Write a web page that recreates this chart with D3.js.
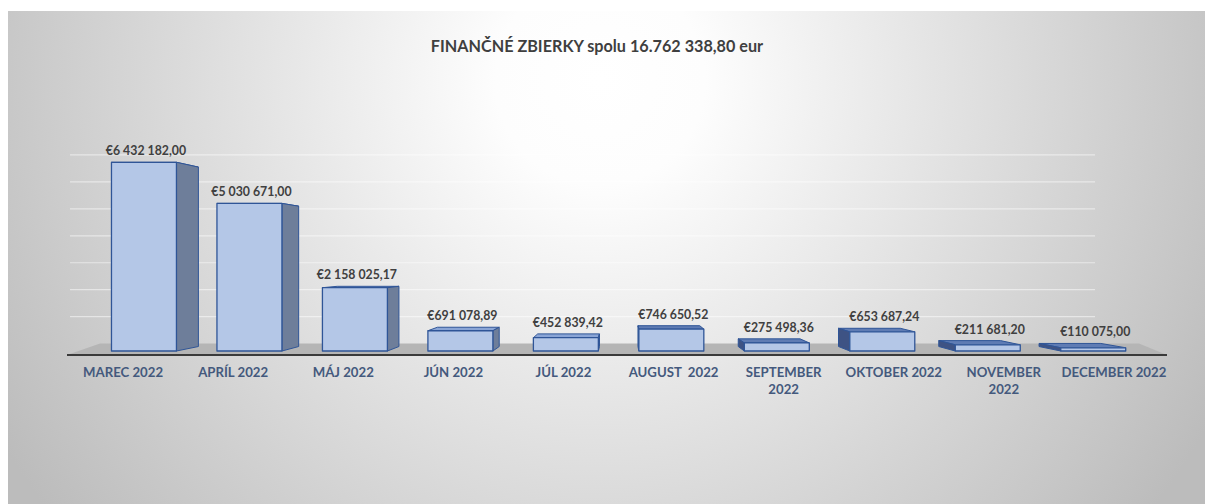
<!DOCTYPE html>
<html lang="sk">
<head>
  <meta charset="UTF-8">
  <title>Finančné zbierky 2022</title>
  <script src="https://cdnjs.cloudflare.com/ajax/libs/d3/7.8.5/d3.min.js"></script>
  <style>
    body {
      margin: 0;
      background: white;
    }
    svg {
      display: block;
    }
    text {
      font-family: Lato, "Open Sans", sans-serif;
      font-weight: bold;
    }
    .title {
      fill: #3f3f3f;
      font-size: 16.2px;
      text-anchor: middle;
    }
    .value-label {
      fill: #404040;
      font-size: 12.3px;
      text-anchor: middle;
    }
    .cat-label {
      fill: #44597d;
      font-size: 13.2px;
      text-anchor: middle;
      white-space: pre;
    }
  </style>
</head>
<body>
  <script>
    var title = "FINANČNÉ ZBIERKY spolu 16.762 338,80 eur";

    var months = [
      ["MAREC 2022"],
      ["APRÍL 2022"],
      ["MÁJ 2022"],
      ["JÚN 2022"],
      ["JÚL 2022"],
      ["AUGUST  2022"],
      ["SEPTEMBER", "2022"],
      ["OKTOBER 2022"],
      ["NOVEMBER", "2022"],
      ["DECEMBER 2022"]
    ];

    var values = [6432182.00, 5030671.00, 2158025.17, 691078.89, 452839.42,
                  746650.52, 275498.36, 653687.24, 211681.20, 110075.00];

    var gridTicks = [1000000, 2000000, 3000000, 4000000, 5000000, 6000000, 7000000];

    var w = 1205;
    var h = 504;

    // simple perspective: everything shrinks toward one vanishing point
    var vp = [621, 260];
    var sFront = 0.958;   // front face of bars
    var sBack = 0.9107;   // back face of bars
    var sWall = 0.88;     // back wall with gridlines
    var floorY = 355;

    function project(x, y, s) {
      return [vp[0] + (x - vp[0]) * s, vp[1] + (y - vp[1]) * s];
    }

    var euro = d3.formatLocale({
      decimal: ",",
      thousands: " ",
      grouping: [3],
      currency: ["€", ""]
    }).format("$,.2f");

    var svg = d3.select("body").append("svg")
      .attr("width", w)
      .attr("height", h);

    var defs = svg.append("defs");
    var bg = defs.append("radialGradient")
      .attr("id", "bg")
      .attr("gradientUnits", "userSpaceOnUse")
      .attr("cx", 600)
      .attr("cy", 80)
      .attr("r", 700);
    bg.append("stop").attr("offset", "0").attr("stop-color", "#ffffff");
    bg.append("stop").attr("offset", "0.15").attr("stop-color", "#fdfdfd");
    bg.append("stop").attr("offset", "1").attr("stop-color", "#bcbcbc");

    svg.append("rect")
      .attr("x", 8)
      .attr("y", 11)
      .attr("width", w - 8)
      .attr("height", h - 11)
      .attr("fill", "url(#bg)");

    var xScale = d3.scaleBand()
      .domain(d3.range(months.length))
      .range([68, 1169])
      .paddingInner(0.384)
      .paddingOuter(0.192);

    var yScale = d3.scaleLinear()
      .domain([0, 7000000])
      .range([floorY, floorY - 214.4]);

    // gridlines on back wall
    svg.selectAll(".grid")
      .data(gridTicks)
      .enter()
      .append("line")
      .classed("grid", true)
      .attr("x1", 70)
      .attr("x2", 1095)
      .attr("y1", function(d) {
        return project(0, yScale(d), sWall)[1];
      })
      .attr("y2", function(d) {
        return project(0, yScale(d), sWall)[1];
      })
      .attr("stroke", "#ffffff")
      .attr("stroke-opacity", 0.5)
      .attr("stroke-width", 1.2);

    // floor
    var r = xScale.range();
    var backY = project(0, floorY, sWall)[1];
    svg.append("polygon")
      .attr("points", [[r[0] - 1, floorY], [r[1] - 2, floorY], [r[1] - 30, backY], [r[0] + 32, backY]].join(" "))
      .attr("fill", "#b5b5b5");

    svg.append("line")
      .attr("x1", r[0] - 1)
      .attr("x2", r[1] - 2)
      .attr("y1", floorY)
      .attr("y2", floorY)
      .attr("stroke", "#3a3a3a")
      .attr("stroke-width", 2);

    function poly(pts) {
      return pts.map(function(p) { return p.join(","); }).join(" ");
    }

    var bars = svg.selectAll(".bar")
      .data(values)
      .enter()
      .append("g")
      .classed("bar", true);

    function corners(d, i) {
      var x0 = xScale(i);
      var x1 = x0 + xScale.bandwidth();
      var yt = yScale(d);
      var yb = yScale(0);
      return {x0: x0, x1: x1, yt: yt, yb: yb, right: x0 + xScale.bandwidth() / 2 > vp[0] + 20};
    }

    // top face
    bars.append("polygon")
      .attr("points", function(d, i) {
        var c = corners(d, i);
        return poly([project(c.x0, c.yt, sFront), project(c.x1, c.yt, sFront),
                     project(c.x1, c.yt, sBack), project(c.x0, c.yt, sBack)]);
      })
      .attr("fill", function(d, i) {
        return corners(d, i).right ? "#5f7cb4" : "#8aa5d6";
      })
      .attr("stroke", "#2f5597")
      .attr("stroke-width", 1)
      .attr("stroke-linejoin", "round");

    // side faces
    bars.append("polygon")
      .attr("points", function(d, i) {
        var c = corners(d, i);
        var x = c.right ? c.x0 : c.x1;
        return poly([project(x, c.yt, sFront), project(x, c.yt, sBack),
                     project(x, c.yb, sBack), project(x, c.yb, sFront)]);
      })
      .attr("fill", function(d, i) {
        return corners(d, i).right ? "#3e5384" : "#6e7e9a";
      })
      .attr("stroke", "#2f5597")
      .attr("stroke-width", 1)
      .attr("stroke-linejoin", "round");

    // front face
    bars.append("polygon")
      .attr("points", function(d, i) {
        var c = corners(d, i);
        return poly([project(c.x0, c.yt, sFront), project(c.x1, c.yt, sFront),
                     project(c.x1, c.yb, sFront), project(c.x0, c.yb, sFront)]);
      })
      .attr("fill", "#b4c7e7")
      .attr("stroke", "#2f5597")
      .attr("stroke-width", 1.3)
      .attr("stroke-linejoin", "round");

    svg.selectAll(".value-label")
      .data(values)
      .enter()
      .append("text")
      .classed("value-label", true)
      .text(function(d) {
        return euro(d);
      })
      .attr("x", function(d, i) {
        return project(xScale(i) + xScale.bandwidth() / 2, 0, sFront)[0] + 2;
      })
      .attr("y", function(d, i) {
        var yt = yScale(d);
        return Math.min(project(0, yt, sFront)[1], project(0, yt, sBack)[1]) - 7;
      });

    svg.selectAll(".cat-label")
      .data(months)
      .enter()
      .append("text")
      .classed("cat-label", true)
      .attr("x", function(d, i) {
        return xScale(i) + xScale.bandwidth() / 2;
      })
      .attr("y", 377)
      .selectAll("tspan")
      .data(function(d) { return d; })
      .enter()
      .append("tspan")
      .attr("x", function() {
        return d3.select(this.parentNode).attr("x");
      })
      .attr("dy", function(d, j) { return j === 0 ? 0 : 16.7; })
      .text(function(d) { return d; });

    svg.append("text")
      .classed("title", true)
      .attr("x", 597)
      .attr("y", 52)
      .text(title);
  </script>
</body>
</html>
